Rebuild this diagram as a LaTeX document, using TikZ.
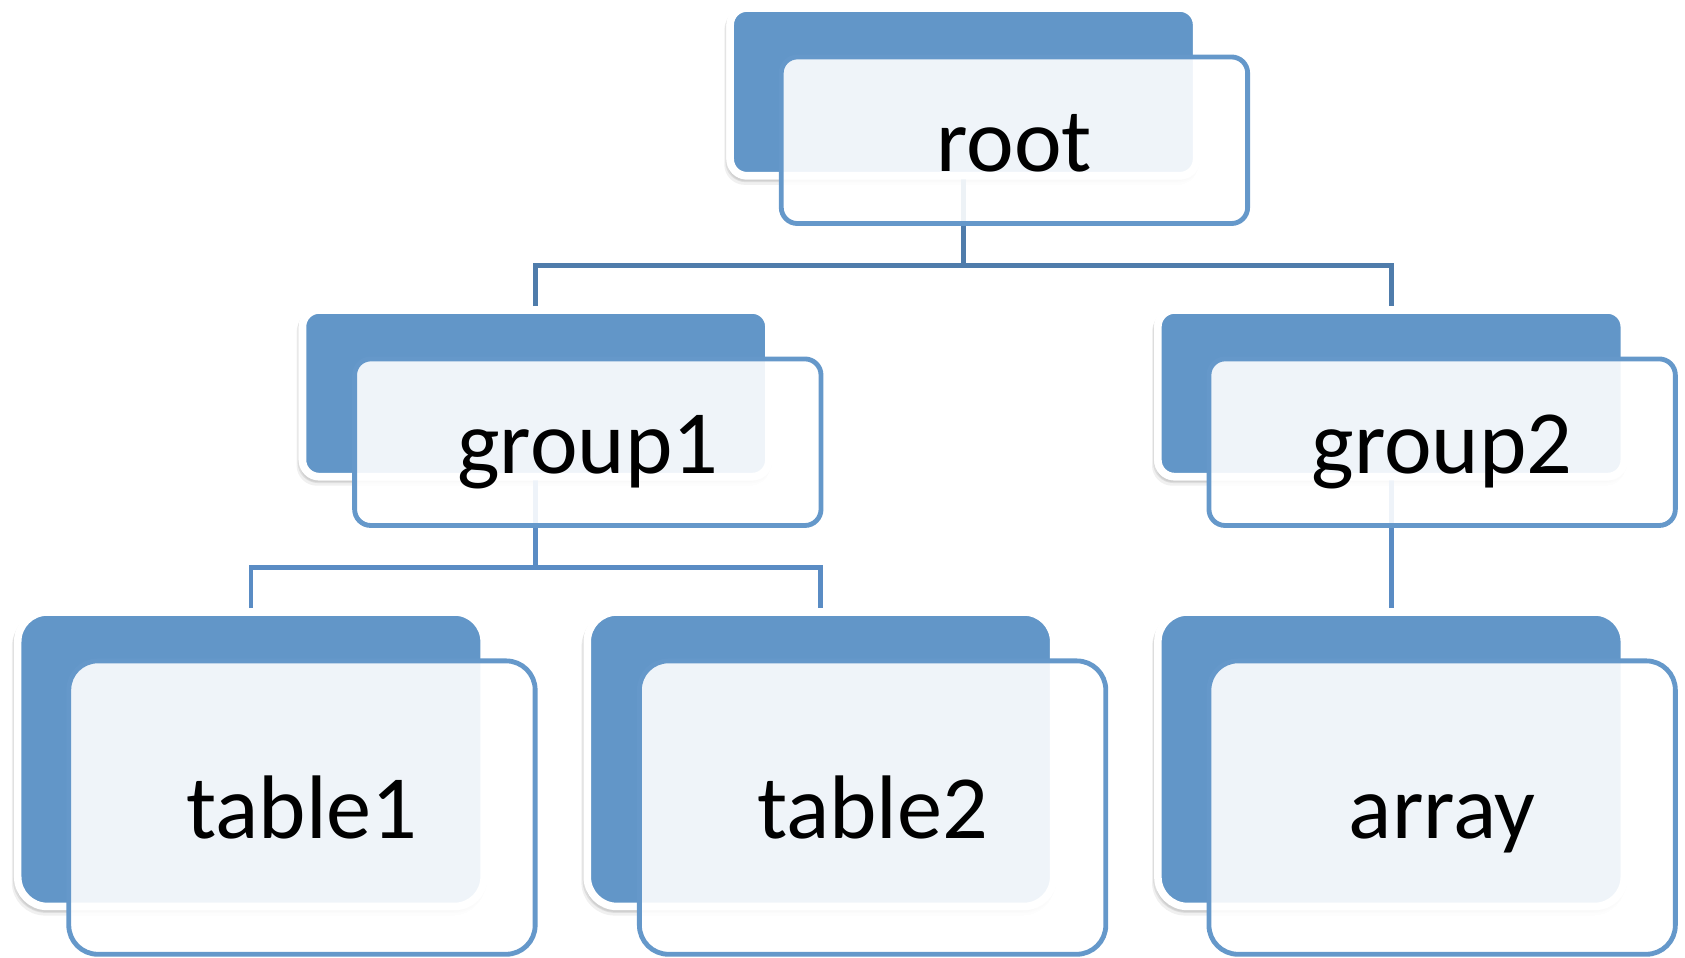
\documentclass[tikz,border=0pt]{standalone}
\usepackage{fontspec}
\setmainfont{Carlito}
\definecolor{backblue}{HTML}{6296C8}
\definecolor{edgeblue}{HTML}{6598CA}
\definecolor{connA}{HTML}{4F7CAB}
\definecolor{connB}{HTML}{5A8CC4}
\tikzset{
  backbox/.style={draw=white, line width=7pt, fill=backblue, rectangle,
    rounded corners=#1, inner sep=0pt, outer sep=0pt, anchor=north west, minimum width=434pt,
    preaction={draw=black, fill=black, line width=7pt, opacity=0.06,
      transform canvas={xshift=-2pt, yshift=-5pt}},
    preaction={draw=black, fill=black, line width=7pt, opacity=0.08,
      transform canvas={xshift=-1pt, yshift=-2.5pt}}},
  backcover/.style={draw=white, line width=7pt, fill=backblue, rectangle,
    rounded corners=#1, inner sep=0pt, outer sep=0pt, anchor=north west, minimum width=434pt},
  frontbox/.style={draw=edgeblue, line width=4.5pt, fill=white, fill opacity=0.9,
    rectangle, rounded corners=#1, inner sep=0pt, outer sep=0pt, anchor=north west, minimum width=434pt},
  lbl/.style={text=black, anchor=base, inner sep=0pt, font=\fontsize{84}{100}\selectfont},
  connA/.style={draw=connA, line width=4.5pt},
  connB/.style={draw=connB, line width=4.5pt},
}
\begin{document}
\begin{tikzpicture}[x=1pt, y=-1pt]
\useasboundingbox (0,0) rectangle (1568,891);
% junction points
\coordinate (j0) at (896.5,247);
\coordinate (j1) at (498.5,528);
% Back boxes
\node[backbox=15.5pt, minimum height=156pt] (rootB) at (679.5,7.5) {};
\node[backbox=15.5pt, minimum height=155pt] (g1B) at (281.5,288.5) {};
\node[backbox=15.5pt, minimum height=155pt] (g2B) at (1077.5,288.5) {};
\node[backbox=27.5pt, minimum height=274pt] (t1B) at (16.5,569.5) {};
\node[backbox=27.5pt, minimum height=274pt] (t2B) at (546.5,569.5) {};
\node[backbox=27.5pt, minimum height=274pt] (arB) at (1077.5,569.5) {};
% Connectors
\draw[connA] (rootB.south) -- (j0);
\draw[connA] ([yshift=3.5pt]g1B.north) |- (j0) -| ([yshift=3.5pt]g2B.north);
\draw[connB] (g1B.south) -- (j1);
\draw[connB] ([yshift=3.5pt]t1B.north) |- (j1) -| ([yshift=3.5pt]t2B.north);
\draw[connB] (g2B.south) -- ([yshift=3.5pt]arB.north);
% cover the connector ends under the upper back boxes
\node[backcover=15.5pt, minimum height=156pt] at (679.5,7.5) {};
\node[backcover=15.5pt, minimum height=155pt] at (281.5,288.5) {};
\node[backcover=15.5pt, minimum height=155pt] at (1077.5,288.5) {};
% Front boxes
\node[frontbox=15pt, minimum height=155pt] (rootF) at (727,53) {};
\node[frontbox=15pt, minimum height=155pt] (g1F) at (330,334) {};
\node[frontbox=15pt, minimum height=155pt] (g2F) at (1125,334) {};
\node[frontbox=27pt, minimum height=273pt] (t1F) at (64,615) {};
\node[frontbox=27pt, minimum height=273pt] (t2F) at (595,615) {};
\node[frontbox=27pt, minimum height=273pt] (arF) at (1125,615) {};
% Labels
\node[lbl] (rootT) at ([yshift=-29pt]rootF.center) {root};
\node[lbl] (g1T) at ([yshift=-29pt]g1F.center) {group1};
\node[lbl] (g2T) at ([yshift=-29pt]g2F.center) {group2};
\node[lbl] (t1T) at ([yshift=-29pt]t1F.center) {table1};
\node[lbl] (t2T) at ([yshift=-29pt]t2F.center) {table2};
\node[lbl] (arT) at ([yshift=-29pt]arF.center) {array};
\end{tikzpicture}
\end{document}
